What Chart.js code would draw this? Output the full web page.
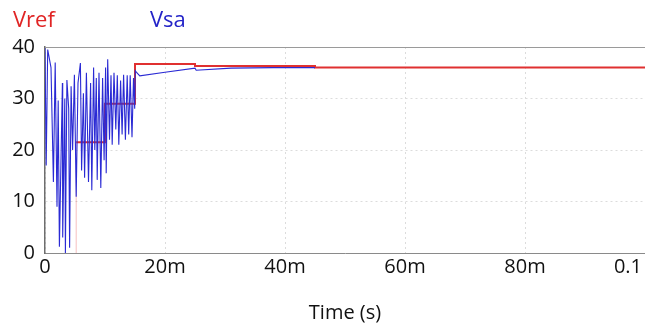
<!DOCTYPE html>
<html>
<head>
<meta charset="utf-8">
<script src="https://cdn.jsdelivr.net/npm/chart.js@4/dist/chart.umd.min.js"></script>
<style>
  html, body { margin: 0; padding: 0; background: #fff; }
  canvas { display: block; }
</style>
</head>
<body>
<canvas id="chart" width="645" height="329"></canvas>
<script>
// time in ms, values in V
const vsaTime = [0, 0.2, 0.45, 1.0, 1.4, 1.7, 2.0, 2.2, 2.4, 2.9, 2.95, 3.3, 3.4, 3.65, 3.95, 4.1, 4.35, 4.6, 4.9,
  5.2, 5.5, 5.9, 6.1, 6.4, 6.6, 6.9, 7.25, 7.6, 7.8, 8.1, 8.3, 8.55, 8.7, 9.0, 9.3, 9.6, 9.85, 10.1, 10.2,
  10.45, 10.75, 11.0, 11.2, 11.5, 11.8, 12.05, 12.3, 12.6, 12.85, 13.1, 13.4, 13.7, 13.95, 14.2, 14.5, 14.75,
  14.95, 15.05, 15.3, 15.8, 20, 25, 25.2, 31, 38, 45];
const vsaValue = [40, 17, 39.5, 36, 13.8, 37, 9, 29.6, 1.2, 33, 3, 30, 0, 33.6, 28, 1, 32.4, 20, 34.6,
  10.9, 33, 36.9, 16, 31, 14.6, 35, 13.8, 33, 12.2, 36, 20, 34, 14.2, 35, 12.6, 34, 18, 36, 15.5,
  37.6, 22, 34.5, 21, 35, 24, 34.5, 21, 33.5, 23, 34.6, 22, 34.5, 23, 34.5, 22.5, 34,
  28, 35.4, 35.0, 34.4, 35.1, 35.9, 35.5, 35.9, 36.0, 36.0];

const vrefTime = [5.2, 5.2, 10, 10, 15, 15, 25, 25, 45, 45, 100];
const vrefValue = [0, 21.5, 21.5, 29, 29, 36.7, 36.7, 36.3, 36.3, 36.0, 36.0];

const xTicks = ['0', '20m', '40m', '60m', '80m', '0.1'];
const legendItems = [
  { text: 'Vref', color: '#e02424', x: 13 },
  { text: 'Vsa', color: '#2424c8', x: 150 }
];

const FONT = '"Open Sans", sans-serif';

const toPoints = (ts, vs) => ts.map((t, i) => ({ x: t / 1000, y: vs[i] }));

// draws the legend texts, the frame top line and the clipped last x label
const decorations = {
  id: 'decorations',
  afterDraw (chart) {
    const { ctx, chartArea } = chart;
    ctx.save();
    ctx.strokeStyle = '#9a9a9a';
    ctx.lineWidth = 1;
    ctx.beginPath();
    ctx.moveTo(chartArea.left, chartArea.top + 0.5);
    ctx.lineTo(chartArea.right, chartArea.top + 0.5);
    ctx.stroke();

    ctx.font = '22px ' + FONT;
    ctx.textBaseline = 'alphabetic';
    ctx.textAlign = 'left';
    legendItems.forEach(item => {
      ctx.fillStyle = item.color;
      ctx.fillText(item.text, item.x, 27);
    });

    ctx.font = '20px ' + FONT;
    ctx.fillStyle = '#111';
    ctx.textAlign = 'right';
    ctx.textBaseline = 'top';
    ctx.fillText(xTicks[xTicks.length - 1], chart.width - 3, chartArea.bottom + 4);
    ctx.restore();
  }
};

new Chart(document.getElementById('chart'), {
  type: 'line',
  data: {
    datasets: [
      {
        label: 'Vsa',
        data: toPoints(vsaTime, vsaValue),
        borderColor: '#2a2ad4',
        borderWidth: 1.1,
        pointRadius: 0,
        tension: 0,
        order: 0
      },
      {
        label: 'Vref',
        data: toPoints(vrefTime, vrefValue),
        borderColor: '#e03030',
        borderWidth: 2,
        pointRadius: 0,
        tension: 0,
        order: 1,
        segment: {
          // the first rise is barely visible in the original
          borderColor: ctx => ctx.p0DataIndex === 0 ? 'rgba(224,48,48,0.3)' : undefined,
          borderWidth: ctx => ctx.p0DataIndex === 0 ? 1 : undefined
        }
      }
    ]
  },
  options: {
    responsive: false,
    devicePixelRatio: 1,
    animation: false,
    layout: { padding: { top: 47, right: 0, left: 0, bottom: 0 } },
    plugins: {
      legend: { display: false },
      tooltip: { enabled: false }
    },
    scales: {
      x: {
        type: 'linear',
        min: 0,
        max: 0.1,
        ticks: {
          stepSize: 0.02,
          maxRotation: 0,
          padding: 2,
          font: { family: FONT, size: 20 },
          color: ctx => ctx.index === xTicks.length - 1 ? 'rgba(0,0,0,0)' : '#111',
          callback: (v, i) => xTicks[i]
        },
        grid: { color: '#dcdcdc', drawTicks: false },
        border: { color: '#8a8a8a', width: 1, dash: [2, 3] },
        title: {
          display: true,
          text: 'Time (s)',
          font: { family: FONT, size: 20 },
          color: '#111',
          padding: { top: 14 }
        },
        afterFit (s) {
          s.height = 76;
          s.paddingLeft = 0;
          s.paddingRight = 0;
        }
      },
      y: {
        min: 0,
        max: 40,
        ticks: {
          stepSize: 10,
          padding: 10,
          font: { family: FONT, size: 20 },
          color: '#111'
        },
        grid: { color: '#dcdcdc', drawTicks: false },
        border: { color: '#6e6e6e', width: 1.5, dash: [2, 3] },
        afterFit (s) {
          s.width = 45;
        }
      }
    }
  },
  plugins: [decorations]
});
</script>
</body>
</html>
